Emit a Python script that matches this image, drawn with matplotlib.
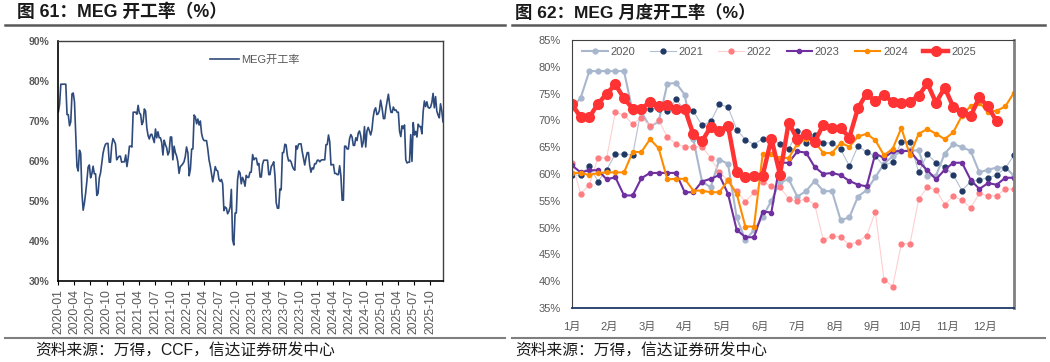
import matplotlib
matplotlib.use('Agg')
import matplotlib.pyplot as plt
import matplotlib.dates as mdates
from matplotlib.lines import Line2D
from matplotlib.ticker import FuncFormatter, MultipleLocator
import numpy as np
import pandas as pd

plt.rcParams['font.family'] = ['Liberation Sans', 'Noto Sans CJK SC']

years = [2020, 2021, 2022, 2023, 2024, 2025]

# weekly MEG operating rate (%), one list per year
rate_2020 = [72.3, 74.2, 79.2, 79.2, 79.2, 79.2, 79.2, 71.6, 71.6, 68.8, 69.8, 76.8, 77.0,
             74.8, 66.5, 58.6, 57.5, 62.7, 61.9, 51.9, 47.7, 49.5, 52.0, 55.0, 58.5, 59.0,
             55.8, 56.8, 58.7, 56.8, 56.8, 51.4, 51.9, 55.8, 57.0, 59.4, 61.9, 63.3, 64.2,
             64.4, 64.4, 59.7, 59.7, 63.8, 65.6, 65.0, 64.3, 60.3, 60.8, 61.2, 61.2, 59.7]
rate_2021 = [59.8, 59.8, 61.5, 58.6, 60.8, 63.7, 63.7, 63.5, 72.2, 72.2, 72.2, 71.7, 73.9,
             72.0, 71.7, 69.1, 69.8, 73.0, 72.5, 68.3, 66.4, 65.5, 66.6, 66.7, 65.6, 64.6,
             68.0, 65.8, 67.3, 65.8, 65.8, 64.6, 61.5, 65.2, 64.1, 63.3, 61.5, 62.3, 66.0,
             66.0, 60.3, 63.7, 62.1, 61.3, 59.8, 56.9, 58.6, 58.9, 59.3, 59.8, 61.1, 63.5]
rate_2022 = [62.0, 56.3, 58.0, 63.0, 63.0, 71.5, 71.0, 69.3, 70.5, 69.0, 70.0, 66.9, 65.6,
             65.1, 65.1, 65.1, 63.0, 60.3, 58.8, 56.8, 54.8, 56.6, 58.6, 57.7, 57.5, 55.4,
             54.9, 55.4, 54.3, 47.6, 48.5, 48.2, 46.8, 47.4, 48.5, 52.9, 40.3, 39.0, 47.0,
             47.0, 55.3, 57.5, 57.0, 54.3, 55.9, 55.1, 53.7, 56.4, 55.9, 55.9, 57.2, 57.2]
rate_2023 = [61.6, 60.3, 60.7, 60.7, 59.0, 59.4, 56.0, 56.0, 59.2, 60.2, 60.2, 60.2, 60.2,
             56.6, 56.6, 58.6, 59.1, 59.8, 56.3, 49.6, 48.2, 48.2, 53.0, 52.8, 62.1, 62.1,
             64.2, 64.0, 61.3, 60.0, 60.2, 59.8, 58.7, 58.0, 57.7, 63.8, 63.0, 64.2, 64.3,
             64.3, 62.3, 60.7, 59.0, 60.8, 62.1, 62.1, 58.9, 57.2, 58.3, 58.0, 59.3, 59.3]
rate_2024 = [60.2, 60.2, 59.8, 60.2, 60.3, 60.3, 60.3, 64.1, 64.1, 66.5, 64.8, 59.0, 59.1,
             59.1, 56.9, 56.9, 56.6, 56.6, 58.8, 56.3, 50.2, 50.2, 63.7, 63.7, 63.0, 63.0,
             65.6, 66.6, 66.0, 63.9, 63.9, 65.8, 65.1, 67.0, 67.5, 66.3, 63.5, 64.7, 68.6,
             63.5, 67.5, 68.4, 67.5, 66.5, 67.8, 70.9, 72.7, 73.3, 71.6, 71.8, 72.6, 75.2]
rate_2025 = [73.0, 70.6, 70.6, 73.1, 75.0, 76.7, 74.1, 72.2, 72.1, 73.5, 72.7, 72.8, 72.2,
             72.2, 67.4, 66.1, 68.8, 68.1, 69.0, 60.3, 59.5, 59.7, 59.7, 66.6, 59.9, 69.6,
             66.5, 67.4, 66.0, 69.2, 68.6, 68.6, 66.8, 72.3, 75.0, 73.6, 74.8, 73.4, 73.2,
             73.5, 74.6, 76.9, 73.3, 76.1, 72.5, 71.5, 70.8, 74.3, 72.6, 69.8]

month_labels = ['1月', '2月', '3月', '4月', '5月', '6月',
                '7月', '8月', '9月', '10月', '11月', '12月']

series = dict(zip(years, [rate_2020, rate_2021, rate_2022, rate_2023, rate_2024, rate_2025]))

# full weekly history for the left chart
dates = []
values = []
for y in years:
    v = series[y]
    start = pd.Timestamp(f'{y}-01-03')
    dates.extend([start + pd.Timedelta(days=7 * i) for i in range(len(v))])
    values.extend(v)
dates = pd.DatetimeIndex(dates)

GRAY = '#595959'
W, H = 1050, 362
fig = plt.figure(figsize=(W / 100, H / 100), dpi=100)

def fx(px):
    return px / W

def fy(py):
    return 1 - py / H

# titles, rules and sources
fig.text(fx(17), fy(12), '图 61：MEG 开工率（%）', fontsize=12.8, fontweight='bold',
         color='#1a1a1a', va='center', ha='left')
fig.text(fx(515), fy(12), '图 62：MEG 月度开工率（%）', fontsize=12.5, fontweight='bold',
         color='#1a1a1a', va='center', ha='left')
for x0, x1 in [(5, 505), (512, 1045)]:
    fig.add_artist(Line2D([fx(x0), fx(x1)], [fy(25), fy(25)], color='#595959', lw=1.8))
    fig.add_artist(Line2D([fx(x0), fx(x1)], [fy(338), fy(338)], color='#7f7f7f', lw=1.5))
fig.text(fx(35), fy(350), '资料来源：万得，CCF，信达证券研发中心', fontsize=11.3,
         color='#1a1a1a', va='center', ha='left')
fig.text(fx(515), fy(350), '资料来源：万得，信达证券研发中心', fontsize=11.3,
         color='#1a1a1a', va='center', ha='left')

# left: weekly history
ax1 = fig.add_axes([fx(58), fy(281), fx(443) - fx(58), fy(41) - fy(281)])
ax1.plot(dates, values, color='#2F4B7C', lw=1.2, label='MEG开工率')
ax1.set_ylim(30, 90)
ax1.set_xlim(pd.Timestamp('2020-01-01'), dates[-1])
ax1.yaxis.set_major_locator(MultipleLocator(10))
ax1.yaxis.set_major_formatter(FuncFormatter(lambda v, p: f'{v:.0f}%'))
ax1.xaxis.set_major_locator(mdates.MonthLocator(bymonth=[1, 4, 7, 10]))
ax1.xaxis.set_major_formatter(mdates.DateFormatter('%Y-%m'))
ax1.tick_params(axis='y', length=0, labelsize=7.5, labelcolor=GRAY, pad=6)
ax1.tick_params(axis='x', length=3, direction='out', color='black', labelsize=8.8,
                labelcolor=GRAY, labelrotation=90, pad=3)
for lab in ax1.get_yticklabels():
    lab.set_fontweight('bold')
for s in ['left', 'bottom']:
    ax1.spines[s].set_color('black')
    ax1.spines[s].set_linewidth(1.2)
for s in ['top', 'right']:
    ax1.spines[s].set_color('#404040')
    ax1.spines[s].set_linewidth(1.0)
ax1.legend(loc='upper left', bbox_to_anchor=(0.37, 0.985), frameon=False, fontsize=8,
           handlelength=2.6, handletextpad=0.2, labelcolor=GRAY)

# right: seasonal weekly comparison
styles = {
    2020: dict(color='#A9B7CE', lw=1.5, marker='o', ms=3.5, mfc='#A9B7CE', mec='#A9B7CE'),
    2021: dict(color='#B4C0D3', lw=0.8, marker='o', ms=3.5, mfc='#203864', mec='#203864'),
    2022: dict(color='#FFCFCF', lw=0.8, marker='o', ms=3.5, mfc='#FF7C80', mec='#FF7C80'),
    2023: dict(color='#7030A0', lw=1.5, marker='o', ms=3, mfc='#7030A0', mec='#7030A0'),
    2024: dict(color='#FF8C00', lw=1.5, marker='o', ms=3, mfc='#FF8C00', mec='#FF8C00'),
    2025: dict(color='#FF3333', lw=3.2, marker='o', ms=7, mfc='#FF3333', mec='#FF3333'),
}
ax2 = fig.add_axes([fx(572), fy(308), fx(1014) - fx(572), fy(40) - fy(308)])
for y in years:
    v = series[y]
    ax2.plot(np.arange(len(v)), v, label=str(y), **styles[y])
ax2.set_ylim(35, 85)
ax2.set_xlim(0, 51)
ax2.yaxis.set_major_locator(MultipleLocator(5))
ax2.yaxis.set_major_formatter(FuncFormatter(lambda v, p: f'{v:.0f}%'))
ax2.set_xticks(np.arange(12) * 52 / 12)
ax2.set_xticklabels(month_labels)
ax2.tick_params(axis='both', length=0, labelsize=8, labelcolor=GRAY)
ax2.tick_params(axis='x', pad=10)
ax2.tick_params(axis='y', pad=8)
ax2.spines['left'].set_color('#404040')
ax2.spines['top'].set_color('#404040')
ax2.spines['bottom'].set_color('#1F3864')
ax2.spines['bottom'].set_linewidth(1.3)
ax2.spines['right'].set_color('#808080')
ax2.spines['right'].set_linewidth(2)
ax2.legend(loc='upper left', bbox_to_anchor=(0.0, 1.01), ncol=6, frameon=False, fontsize=8,
           handlelength=2.3, handletextpad=0.25, columnspacing=1.35, labelcolor=GRAY,
           numpoints=1)

fig.savefig('out.png', dpi=100)
